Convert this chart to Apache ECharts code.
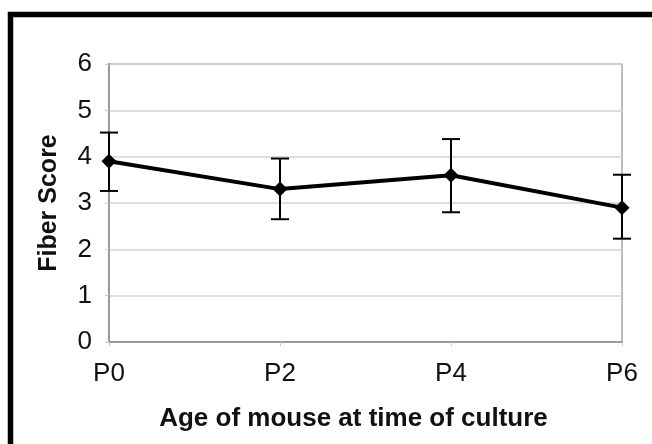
<!DOCTYPE html>
<html>
<head>
<meta charset="utf-8">
<script src="https://cdn.jsdelivr.net/npm/echarts@6/dist/echarts.min.js"></script>
<style>
html,body{margin:0;padding:0;background:#fff;}
#c{width:652px;height:444px;}
</style>
</head>
<body>
<div id="c"></div>
<script>
const categories = ['P0', 'P2', 'P4', 'P6'];
const meanScore = [3.9, 3.3, 3.6, 2.9];
const errorHigh = [4.52, 3.96, 4.38, 3.61];
const errorLow = [3.26, 2.65, 2.8, 2.23];
const yTicks = [0, 1, 2, 3, 4, 5, 6];

const chart = echarts.init(document.getElementById('c'));
const font = 'Liberation Sans, Arial, sans-serif';

chart.setOption({
  animation: false,
  backgroundColor: '#fff',
  graphic: [{
    type: 'rect',
    shape: { x: 10.5, y: 14.5, width: 1000, height: 1000 },
    style: { fill: 'none', stroke: '#000', lineWidth: 5.5 },
    silent: true
  }],
  grid: {
    left: 109, right: 30, top: 64, bottom: 102,
    show: true, borderColor: '#a8a8a8', borderWidth: 1.5
  },
  xAxis: {
    type: 'category',
    data: categories,
    boundaryGap: false,
    axisLine: { lineStyle: { color: '#9a9a9a', width: 2 } },
    axisTick: { show: true, length: 4, lineStyle: { color: '#c8c8c8' } },
    axisLabel: { color: '#111', fontSize: 26, fontFamily: font, margin: 19 },
    name: 'Age of mouse at time of culture',
    nameLocation: 'middle',
    nameGap: 64,
    nameTextStyle: { color: '#111', fontSize: 26, fontWeight: 'bold', fontFamily: font, padding: [0, 24, 0, 0] }
  },
  yAxis: {
    type: 'value',
    min: yTicks[0], max: yTicks[yTicks.length - 1], interval: 1,
    axisLine: { show: true, lineStyle: { color: '#9a9a9a', width: 2 } },
    axisTick: { show: true, length: 4, lineStyle: { color: '#c8c8c8' } },
    splitLine: { lineStyle: { color: '#d4d4d4', width: 1.5 } },
    axisLabel: { color: '#111', fontSize: 26, fontFamily: font, margin: 17 },
    name: 'Fiber Score',
    nameLocation: 'middle',
    nameGap: 47,
    nameTextStyle: { color: '#111', fontSize: 25, fontWeight: 'bold', fontFamily: font }
  },
  series: [{
    type: 'custom',
    z: 3,
    data: categories.map((c, i) => [i, errorLow[i], errorHigh[i]]),
    renderItem: function (params, api) {
      const lo = api.coord([api.value(0), api.value(1)]);
      const hi = api.coord([api.value(0), api.value(2)]);
      const hw = 9;
      const st = { stroke: '#000', lineWidth: 2 };
      return {
        type: 'group',
        children: [
          { type: 'line', shape: { x1: lo[0], y1: lo[1], x2: hi[0], y2: hi[1] }, style: st },
          { type: 'line', shape: { x1: lo[0] - hw, y1: lo[1], x2: lo[0] + hw, y2: lo[1] }, style: st },
          { type: 'line', shape: { x1: hi[0] - hw, y1: hi[1], x2: hi[0] + hw, y2: hi[1] }, style: st }
        ]
      };
    }
  }, {
    type: 'line',
    z: 4,
    data: meanScore,
    symbol: 'diamond',
    symbolSize: 15,
    lineStyle: { color: '#000', width: 4 },
    itemStyle: { color: '#000' }
  }]
});
</script>
</body>
</html>
